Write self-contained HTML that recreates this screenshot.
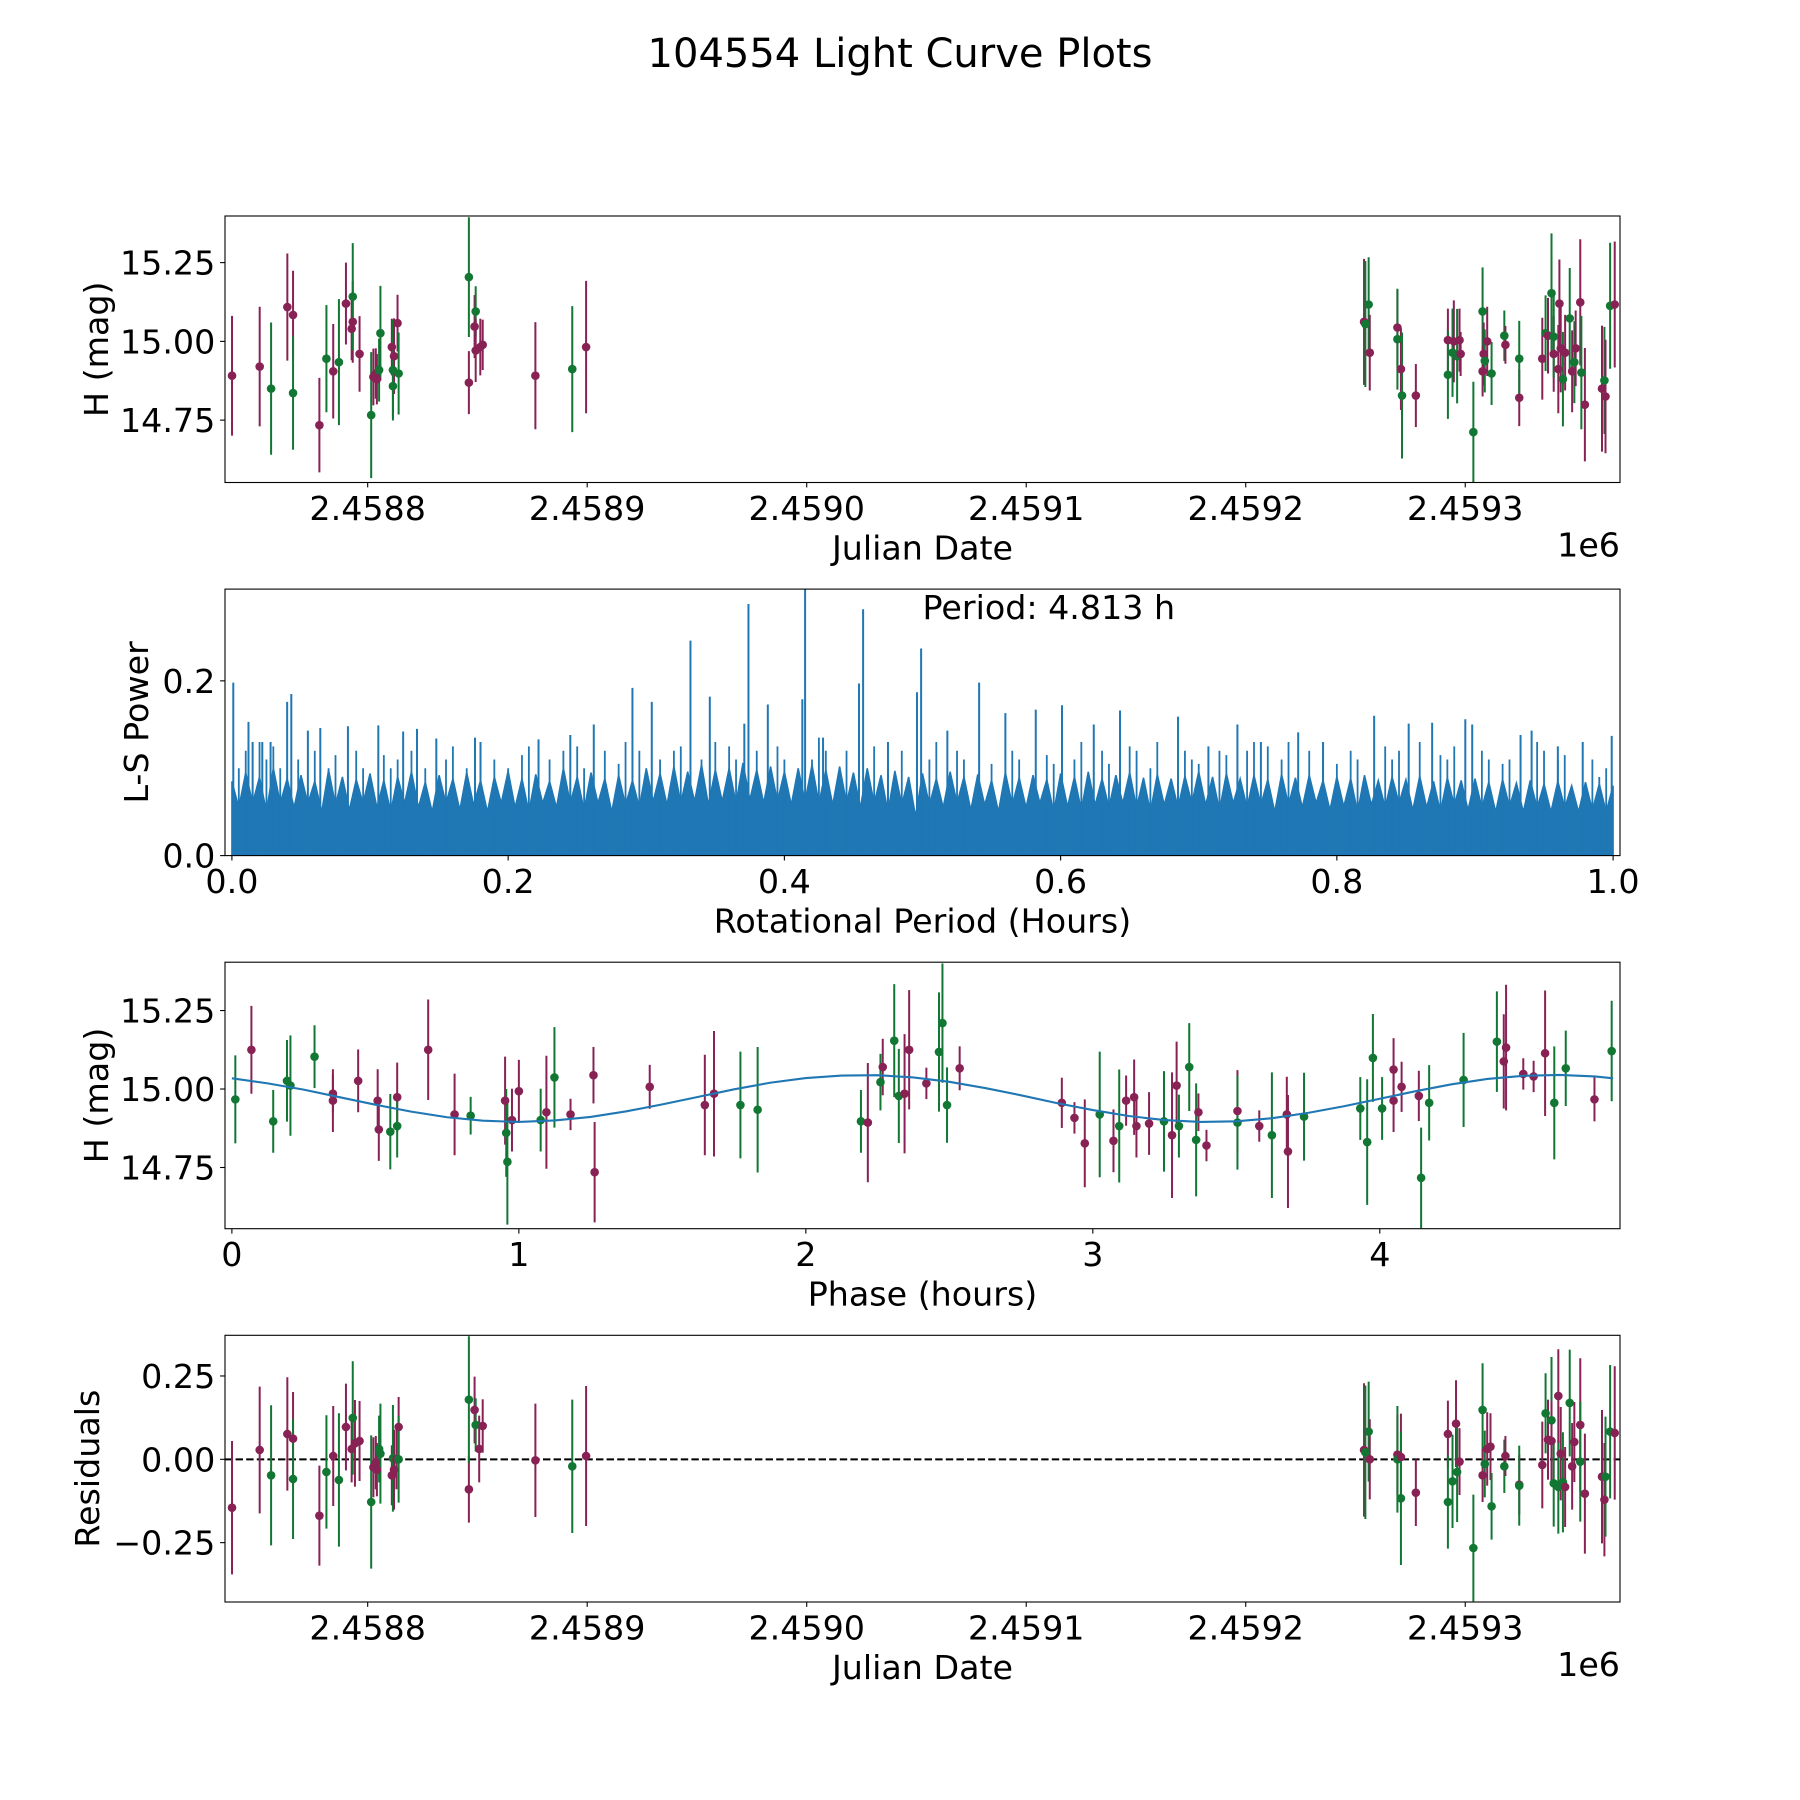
<!DOCTYPE html>
<html><head><meta charset="utf-8"><title>104554 Light Curve Plots</title>
<style>
html,body{margin:0;padding:0;background:#fff;}
svg{display:block;font-family:"DejaVu Sans","Liberation Sans",sans-serif;}
</style></head>
<body>
<svg id="fig" width="1800" height="1800" viewBox="0 0 1800 1800" xmlns="http://www.w3.org/2000/svg">
<rect x="0" y="0" width="1800" height="1800" fill="#fff"/>
<text x="900" y="67" text-anchor="middle" font-size="40" fill="#000">104554 Light Curve Plots</text>
</svg>
<script>
// ---------- Data ----------
const JD_BASE = 2458800;
// Panel 1: light curve vs Julian date (offset days from JD_BASE)
const lcJdOffset = [-61.8,-49.2,-44.0,-36.6,-34.0,-34.0,-22.0,-18.8,-15.7,-13.1,-9.9,-7.3,-6.8,-6.8,-3.7,1.6,2.6,3.7,4.2,5.2,5.8,11.0,11.5,12.0,11.5,13.6,14.1,46.1,46.1,48.7,49.2,49.2,51.3,52.4,76.4,93.2,99.5,
453.9,454.5,456.0,456.5,469.1,469.1,470.7,471.2,477.5,492.1,492.1,494.2,494.8,496.3,497.4,497.9,503.7,507.9,507.9,508.4,508.9,510.0,512.0,517.8,518.3,524.6,524.6,535.1,536.6,537.7,539.3,540.3,540.3,542.4,542.9,543.5,544.5,545.5,547.6,548.7,549.7,550.3,552.4,554.5,552.9,562.3,563.4,563.9,566.0,568.1];
const lcMag = [14.891,14.920,14.850,15.109,15.084,14.836,14.734,14.945,14.905,14.934,15.120,15.040,15.062,15.142,14.960,14.766,14.887,14.898,14.880,14.909,15.026,14.982,14.909,14.953,14.858,15.058,14.898,14.869,15.204,15.047,15.095,14.971,14.982,14.989,14.891,14.912,14.982,
15.062,15.055,15.117,14.964,15.044,15.007,14.912,14.828,14.828,15.004,14.894,14.964,15.000,14.953,15.004,14.960,14.712,15.095,14.905,14.960,14.938,15.000,14.898,15.018,14.989,14.821,14.945,14.945,15.026,15.018,15.153,14.960,15.015,14.912,15.120,14.978,14.880,14.964,15.073,14.905,14.934,14.978,15.124,14.799,14.901,14.850,14.876,14.825,15.113,15.117];
const lcErr = [.19,.19,.21,.17,.14,.18,.15,.17,.15,.2,.13,.1,.13,.17,.12,.2,.09,.08,.08,.1,.15,.09,.16,.12,.1,.09,.13,.1,.19,.1,.08,.1,.09,.08,.17,.2,.21,
.2,.2,.15,.12,.12,.16,.13,.2,.1,.1,.14,.14,.13,.15,.1,.07,.16,.14,.08,.1,.1,.11,.1,.08,.06,.09,.12,.13,.12,.12,.19,.12,.13,.14,.14,.14,.15,.12,.16,.13,.13,.12,.2,.18,.18,.2,.17,.18,.2,.2];
const lcFilter = [0,0,1,0,0,1,0,1,0,1,0,0,0,1,0,1,0,0,0,1,1,0,1,0,1,0,1,0,1,0,1,0,0,0,0,1,0,
0,1,1,0,0,1,0,1,0,0,1,1,0,1,0,0,1,1,0,0,1,0,1,1,0,0,1,0,1,0,1,0,1,0,0,0,1,0,1,0,1,0,0,0,1,0,1,0,1,0];

// Panel 2: Lomb-Scargle periodogram
const lsPeakX = [0.001,0.012,0.015,0.022,0.028,0.040,0.043,0.055,0.064,0.084,0.106,0.124,0.134,0.148,0.176,0.180,0.222,0.245,0.262,0.290,0.304,0.332,0.346,0.371,0.374,0.388,0.413,0.415,0.428,0.454,0.457,0.475,0.496,0.499,0.518,0.541,0.560,0.582,0.601,0.624,0.643,0.685,0.707,0.728,0.745,0.772,0.790,0.827,0.852,0.869,0.893,0.898,0.933,0.941,0.960,0.978,0.999];
const lsPeakV = [0.198,0.153,0.130,0.130,0.130,0.176,0.185,0.143,0.146,0.148,0.149,0.142,0.145,0.134,0.135,0.130,0.133,0.138,0.150,0.192,0.176,0.246,0.182,0.151,0.288,0.173,0.179,0.310,0.135,0.197,0.282,0.130,0.187,0.237,0.143,0.198,0.163,0.167,0.172,0.150,0.166,0.159,0.125,0.150,0.130,0.141,0.130,0.160,0.151,0.152,0.156,0.150,0.138,0.143,0.125,0.130,0.137];
const lsMidX = [.005,.01,.02,.025,.03,.035,.048,.06,.07,.075,.09,.095,.11,.115,.12,.13,.14,.155,.16,.17,.18,.19,.20,.21,.215,.23,.24,.25,.255,.27,.28,.285,.295,.31,.32,.325,.34,.35,.36,.365,.38,.395,.40,.42,.425,.43,.445,.465,.475,.485,.505,.51,.525,.53,.55,.565,.57,.59,.595,.61,.615,.63,.635,.65,.655,.665,.67,.69,.695,.70,.715,.72,.735,.74,.75,.76,.765,.78,.79,.80,.81,.815,.835,.84,.845,.86,.875,.88,.885,.905,.91,.92,.925,.945,.95,.96,.965,.985,.99,.995];
const lsMidV = [.10,.12,.13,.11,.125,.10,.11,.12,.10,.115,.12,.10,.115,.10,.11,.12,.10,.11,.125,.10,.12,.11,.10,.115,.125,.11,.12,.125,.10,.12,.105,.13,.12,.11,.12,.125,.11,.13,.125,.11,.12,.125,.11,.11,.135,.12,.12,.125,.11,.12,.11,.13,.12,.11,.105,.12,.11,.115,.105,.11,.13,.12,.105,.125,.12,.10,.13,.12,.11,.105,.12,.115,.12,.13,.125,.11,.13,.12,.11,.105,.12,.11,.125,.11,.12,.13,.115,.11,.125,.12,.11,.105,.11,.13,.12,.11,.115,.11,.09,.10];
// noise band sampled every 0.005 hours (201 values, alternating crest/trough)
const lsBandV = [
.085,.055,.095,.06,.09,.05,.1,.06,.088,.055,.092,.06,.085,.05,.098,.058,.09,.052,.087,.06,
.094,.055,.086,.05,.09,.06,.096,.055,.084,.05,.092,.06,.088,.052,.095,.058,.086,.05,.09,.06,
.097,.055,.088,.05,.093,.06,.085,.055,.1,.06,.09,.052,.095,.06,.088,.05,.092,.058,.086,.055,
.1,.062,.094,.058,.102,.06,.096,.062,.104,.058,.098,.062,.1,.06,.106,.064,.098,.06,.102,.062,
.096,.058,.1,.062,.104,.06,.098,.058,.102,.06,.095,.055,.1,.06,.092,.05,.097,.058,.09,.045,
.094,.058,.088,.055,.096,.06,.09,.052,.093,.058,.086,.05,.095,.058,.089,.055,.092,.06,.087,.05,
.094,.056,.09,.052,.096,.058,.088,.055,.092,.06,.095,.055,.089,.05,.093,.058,.088,.055,.091,.06,
.096,.058,.09,.052,.094,.06,.088,.055,.092,.058,.087,.05,.093,.058,.089,.055,.092,.06,.086,.052,
.09,.056,.088,.05,.092,.058,.086,.055,.09,.06,.087,.052,.091,.055,.085,.05,.089,.058,.086,.052,
.088,.055,.084,.05,.087,.056,.083,.05,.086,.055,.082,.05,.085,.055,.08,.05,.084,.052,.082,.05,.08];
const lsBandStep = 0.005;

// Panel 3: phase-folded light curve with model
const phHours = [0.012,0.068,0.144,0.192,0.204,0.288,0.352,0.352,0.44,0.508,0.512,0.552,0.576,0.576,0.684,0.776,0.832,0.952,0.956,0.96,0.976,1.0,1.076,1.096,1.124,1.18,1.26,1.264,1.456,1.648,1.68,1.772,1.832,2.192,2.216,2.26,2.268,2.308,2.324,2.344,2.36,2.42,2.464,2.476,2.492,2.536,2.892,2.936,2.972,3.024,3.072,3.092,3.116,3.144,3.152,3.196,3.248,3.276,3.292,3.3,3.336,3.36,3.368,3.396,3.504,3.504,3.58,3.624,3.676,3.68,3.736,3.932,3.956,3.976,4.008,4.048,4.048,4.076,4.136,4.144,4.172,4.292,4.408,4.432,4.44,4.5,4.536,4.576,4.608,4.648,4.748,4.808];
const phMag = [14.967,15.125,14.897,15.026,15.011,15.103,14.985,14.963,15.026,14.963,14.871,14.864,14.974,14.882,15.125,14.919,14.915,14.963,14.860,14.768,14.901,14.993,14.901,14.926,15.037,14.919,15.044,14.735,15.007,14.949,14.985,14.949,14.934,14.897,14.893,15.022,15.070,15.154,14.978,14.985,15.125,15.018,15.118,15.210,14.949,15.066,14.956,14.908,14.827,14.919,14.835,14.882,14.963,14.974,14.882,14.890,14.897,14.853,15.011,14.882,15.070,14.838,14.926,14.820,14.930,14.893,14.882,14.853,14.919,14.801,14.912,14.938,14.831,15.099,14.938,14.963,15.062,15.007,14.978,14.717,14.956,15.029,15.151,15.088,15.132,15.048,15.040,15.114,14.956,15.066,14.967,15.121];
const phErr = [.14,.14,.1,.13,.16,.1,.06,.1,.1,.1,.1,.12,.11,.1,.16,.13,.06,.14,.14,.2,.1,.1,.1,.18,.16,.05,.09,.16,.07,.16,.2,.17,.2,.1,.19,.09,.09,.18,.15,.19,.19,.05,.19,.19,.12,.07,.08,.05,.14,.2,.1,.18,.08,.12,.1,.1,.16,.2,.14,.1,.14,.18,.06,.05,.13,.15,.05,.2,.12,.18,.14,.1,.2,.14,.1,.1,.1,.08,.08,.16,.12,.15,.16,.15,.2,.05,.05,.2,.18,.12,.07,.16];
const phFilter = [1,0,1,1,1,1,0,0,0,0,0,1,0,1,0,0,1,0,1,1,0,0,1,0,1,0,0,0,0,0,0,1,1,1,0,1,0,1,1,0,0,0,1,1,1,0,0,0,0,1,0,1,0,0,0,0,1,0,0,1,1,1,0,0,0,1,0,1,0,0,1,1,1,1,1,0,0,0,0,1,1,1,1,0,0,0,0,0,1,1,0,1];
const modelHours = [0,0.125,0.25,0.375,0.5,0.625,0.75,0.875,1.0,1.125,1.25,1.375,1.5,1.625,1.75,1.875,2.0,2.125,2.25,2.375,2.5,2.625,2.75,2.875,3.0,3.125,3.25,3.375,3.5,3.625,3.75,3.875,4.0,4.125,4.25,4.375,4.5,4.625,4.75,4.813];
const modelMag = [15.034,15.018,14.998,14.974,14.950,14.928,14.910,14.899,14.895,14.900,14.911,14.929,14.951,14.975,14.999,15.020,15.035,15.043,15.044,15.037,15.023,15.003,14.980,14.955,14.933,14.914,14.901,14.895,14.897,14.907,14.924,14.945,14.969,14.993,15.015,15.032,15.042,15.045,15.040,15.034];

// Panel 4: residuals vs Julian date
const resJdOffset = [-61.8,-49.2,-44.0,-36.6,-34.0,-34.0,-22.0,-18.8,-15.7,-13.1,-9.9,-7.3,-6.8,-5.8,-3.7,1.6,2.6,3.7,4.2,5.2,5.8,11.0,11.5,12.0,13.1,14.1,14.1,46.1,46.1,48.7,49.2,50.8,52.4,76.4,93.2,99.5,
453.9,454.5,456.0,456.5,469.1,469.1,470.7,470.7,477.5,492.1,492.1,494.2,495.8,496.3,497.4,503.7,507.9,507.9,508.9,510.0,511.5,512.0,517.8,518.3,524.6,524.6,535.1,536.6,537.7,539.3,539.3,540.3,542.4,542.4,543.5,544.5,545.5,547.6,548.7,549.7,552.4,554.5,552.4,562.3,563.4,563.9,566.0,568.1];
const resVal = [-0.145,0.028,-0.048,0.076,0.062,-0.059,-0.169,-0.038,0.010,-0.062,0.097,0.031,0.124,0.048,0.055,-0.128,-0.024,-0.010,-0.031,0.031,0.017,-0.048,0.003,-0.031,0.0,0.097,0.0,-0.090,0.179,0.148,0.103,0.031,0.100,-0.003,-0.021,0.010,
0.028,0.021,0.083,0.0,0.014,0.0,0.007,-0.117,-0.100,0.076,-0.128,-0.066,0.107,-0.038,-0.007,-0.266,0.148,-0.048,-0.014,0.031,0.038,-0.141,-0.021,0.010,-0.076,-0.079,-0.017,0.138,0.059,0.117,0.055,-0.072,-0.083,0.190,0.017,-0.069,-0.083,0.169,-0.021,0.052,0.103,-0.103,-0.007,-0.052,-0.121,-0.052,0.083,0.079];
const resErr = [.2,.19,.21,.17,.14,.18,.15,.17,.15,.2,.13,.1,.17,.13,.12,.2,.09,.08,.08,.1,.15,.09,.16,.12,.09,.09,.13,.1,.19,.1,.08,.1,.08,.17,.2,.21,
.2,.2,.15,.12,.12,.16,.13,.2,.1,.1,.14,.14,.13,.15,.1,.16,.14,.08,.1,.11,.1,.1,.08,.06,.09,.12,.13,.12,.12,.19,.12,.13,.14,.14,.14,.15,.12,.16,.13,.12,.2,.18,.18,.2,.17,.18,.2,.2];
const resFilter = [0,0,1,0,0,1,0,1,0,1,0,0,1,0,0,1,0,0,0,1,1,0,1,0,0,0,1,0,1,0,1,0,0,0,1,0,
0,1,1,0,0,1,0,1,0,0,1,1,0,1,0,1,1,0,1,0,0,1,1,0,0,1,0,1,0,1,0,1,1,0,0,1,0,1,0,0,0,0,1,0,0,1,1,0];

const jdTicks = [0,100,200,300,400,500];
const jdTickLabels = ["2.4588","2.4589","2.4590","2.4591","2.4592","2.4593"];
const magTicks = [14.75,15.00,15.25];
const magTickLabels = ["14.75","15.00","15.25"];
const lsXTicks = [0,0.2,0.4,0.6,0.8,1.0];
const lsXTickLabels = ["0.0","0.2","0.4","0.6","0.8","1.0"];
const lsYTicks = [0,0.2];
const lsYTickLabels = ["0.0","0.2"];
const phTicks = [0,1,2,3,4];
const phTickLabels = ["0","1","2","3","4"];
const resTicks = [-0.25,0,0.25];
const resTickLabels = ["\u22120.25","0.00","0.25"];

// ---------- Drawing ----------
const NS = "http://www.w3.org/2000/svg";
const svg = document.getElementById("fig");
const COLORS = ["#882255","#117733"];
const LEFT = 225, RIGHT = 1620;
const FS = 33.3;
function el(tag, attrs, parent){
  const e = document.createElementNS(NS, tag);
  for (const k in attrs) e.setAttribute(k, attrs[k]);
  (parent||svg).appendChild(e);
  return e;
}
function makeAxes(top, bottom, xmin, xmax, ymin, ymax){
  return {
    top, bottom,
    sx: v => LEFT + (v - xmin) / (xmax - xmin) * (RIGHT - LEFT),
    sy: v => bottom - (v - ymin) / (ymax - ymin) * (bottom - top)
  };
}
function drawFrame(ax, name, xt, xtl, yt, ytl, xlabel, ylabel, ylabelX, offsetText){
  const g = el("g", {});
  
  
  xt.forEach((t,i)=>{
    const x = ax.sx(t);
    el("line",{x1:x,x2:x,y1:ax.bottom,y2:ax.bottom+4.9,stroke:"#000","stroke-width":1.1},g);
    const tx = el("text",{x:x,y:ax.bottom+37.5,"text-anchor":"middle","font-size":FS,fill:"#000"},g);
    tx.textContent = xtl[i];
    
    
  });
  yt.forEach((t,i)=>{
    const y = ax.sy(t);
    el("line",{x1:LEFT-4.9,x2:LEFT,y1:y,y2:y,stroke:"#000","stroke-width":1.1},g);
    const ty = el("text",{x:LEFT-9.7,y:y+12,"text-anchor":"end","font-size":FS,fill:"#000"},g);
    ty.textContent = ytl[i];
    
    
  });
  el("rect",{x:LEFT,y:ax.top,width:RIGHT-LEFT,height:ax.bottom-ax.top,fill:"none",stroke:"#000","stroke-width":1.1},g);
  const xl = el("text",{x:(LEFT+RIGHT)/2,y:ax.bottom+77,"text-anchor":"middle","font-size":FS,fill:"#000"},g);
  xl.textContent = xlabel;
  
  
  const cy = (ax.top+ax.bottom)/2;
  const yl = el("text",{x:ylabelX,y:cy,"text-anchor":"middle","font-size":FS,fill:"#000",transform:`rotate(-90 ${ylabelX} ${cy})`},g);
  yl.textContent = ylabel;
  
  
  if (offsetText){
    const ot = el("text",{x:RIGHT,y:ax.bottom+74,"text-anchor":"end","font-size":FS,fill:"#000"},g);
    ot.textContent = offsetText;
    
    
  }
}
function clipFor(ax, id){
  const cp = el("clipPath",{id:id});
  el("rect",{x:LEFT,y:ax.top,width:RIGHT-LEFT,height:ax.bottom-ax.top},cp);
  return "url(#"+id+")";
}
function drawErrPoints(ax, name, xs, ys, errs, filt, clipId){
  const g = el("g",{"clip-path":clipFor(ax, clipId)});
  
  
  xs.forEach((xv,i)=>{
    const x = ax.sx(xv), c = COLORS[filt[i]];
    const ln = el("line",{x1:x,x2:x,y1:ax.sy(ys[i]-errs[i]),y2:ax.sy(ys[i]+errs[i]),stroke:c,"stroke-width":2},g);
    
    
  });
  xs.forEach((xv,i)=>{
    const pt = el("circle",{cx:ax.sx(xv),cy:ax.sy(ys[i]),r:4.3,fill:COLORS[filt[i]]},g);
    
    
  });
}

// Panel 1
const ax1 = makeAxes(216, 482.5, -65, 570.5, 14.552, 15.398);
drawErrPoints(ax1, "light-curve", lcJdOffset, lcMag, lcErr, lcFilter, "c1");
drawFrame(ax1, "light-curve", jdTicks, jdTickLabels, magTicks, magTickLabels, "Julian Date", "H (mag)", 108, "1e6");

// Panel 2
const ax2 = makeAxes(589.1, 855.6, -0.005, 1.005, 0, 0.305);
{
  const g = el("g",{"clip-path":clipFor(ax2,"c2")});
  
  
  let d = "M"+ax2.sx(0)+","+ax2.sy(0);
  lsBandV.forEach((v,i)=>{ d += " L"+ax2.sx(i*lsBandStep)+","+ax2.sy(v); });
  d += " L"+ax2.sx((lsBandV.length-1)*lsBandStep)+","+ax2.sy(0)+" Z";
  const band = el("path",{d:d,fill:"#1f77b4",stroke:"#1f77b4","stroke-width":1.5,"stroke-linejoin":"miter"},g);
  
  
  lsMidX.forEach((x,i)=>{
    const s = el("line",{x1:ax2.sx(x),x2:ax2.sx(x),y1:ax2.sy(0),y2:ax2.sy(lsMidV[i]),stroke:"#1f77b4","stroke-width":1.8},g);
    
    
  });
  lsPeakX.forEach((x,i)=>{
    const s = el("line",{x1:ax2.sx(x),x2:ax2.sx(x),y1:ax2.sy(0),y2:ax2.sy(lsPeakV[i]),stroke:"#1f77b4","stroke-width":2},g);
    
    
  });
}
drawFrame(ax2, "periodogram", lsXTicks, lsXTickLabels, lsYTicks, lsYTickLabels, "Rotational Period (Hours)", "L-S Power", 148, null);
{
  const t = el("text",{x:ax2.sx(0.5),y:619,"text-anchor":"start","font-size":FS,fill:"#000"});
  t.textContent = "Period: 4.813 h";
  
  
}

// Panel 3
const ax3 = makeAxes(962.2, 1228.7, -0.024, 4.837, 14.555, 15.404);
drawErrPoints(ax3, "phase-curve", phHours, phMag, phErr, phFilter, "c3");
{
  const pts = modelHours.map((h,i)=>ax3.sx(h)+","+ax3.sy(modelMag[i])).join(" ");
  const m = el("polyline",{points:pts,fill:"none",stroke:"#1f77b4","stroke-width":2.1,"stroke-linejoin":"round"});
  
  
}
drawFrame(ax3, "phase-curve", phTicks, phTickLabels, magTicks, magTickLabels, "Phase (hours)", "H (mag)", 108, null);

// Panel 4
const ax4 = makeAxes(1335.3, 1602, -0.428, 0.372, -0.428, 0.372);
ax4.sx = ax1.sx;
{
  const z = el("line",{x1:LEFT,x2:RIGHT,y1:ax4.sy(0),y2:ax4.sy(0),stroke:"#000","stroke-width":2,"stroke-dasharray":"7.4,3.2"});
  
  
}
drawErrPoints(ax4, "residuals", resJdOffset, resVal, resErr, resFilter, "c4");
drawFrame(ax4, "residuals", jdTicks, jdTickLabels, resTicks, resTickLabels, "Julian Date", "Residuals", 99, "1e6");
</script>
</body></html>
